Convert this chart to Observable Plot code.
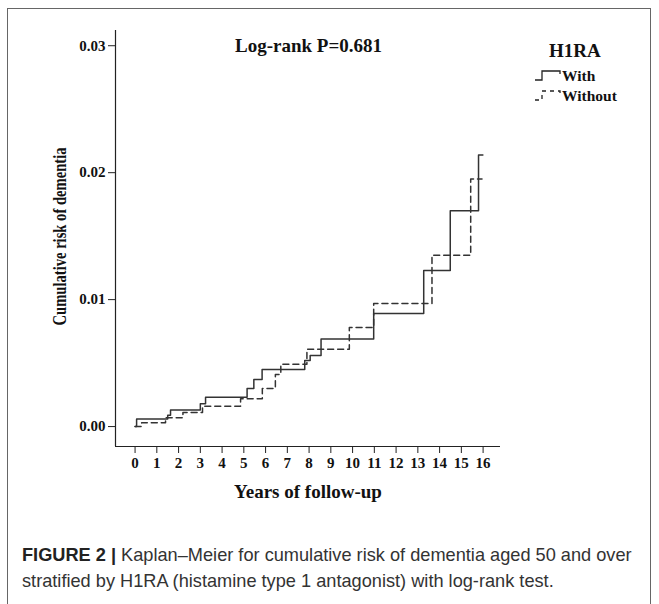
<!DOCTYPE html>
<html>
<head>
<meta charset="utf-8">
<script src="https://cdn.jsdelivr.net/npm/d3@7"></script>
<script src="https://cdn.jsdelivr.net/npm/@observablehq/plot@0.6"></script>
<style>
  html, body { margin: 0; padding: 0; background: #fff; }
  #page { position: relative; width: 659px; height: 604px; overflow: hidden; background: #fff; }
  #frame { position: absolute; left: 7px; top: 8px; width: 644px; height: 620px; border: 1px solid #666; box-sizing: border-box; }
  #chart { position: absolute; left: 0; top: 0; }
  .serif { font-family: "Liberation Serif", "DejaVu Serif", serif; font-weight: bold; color: #111; position: absolute; white-space: nowrap; }
  #title { left: 235px; top: 35px; font-size: 19px; }
  #legtitle { left: 549px; top: 40px; font-size: 19px; }
  .legitem { left: 534px; font-size: 15.5px; display: flex; align-items: center; }
  .legitem svg { margin-right: 0px; }
  #caption { position: absolute; left: 22px; top: 542px; width: 636px; font-family: "Liberation Sans", Arial, sans-serif; font-size: 18.2px; line-height: 26px; color: #333; white-space: nowrap; }
  #caption b { color: #222; }
</style>
</head>
<body>
<div id="page">
  <div id="frame"></div>
  <div id="chart"></div>
  <div id="title" class="serif">Log-rank P=0.681</div>
  <div id="legtitle" class="serif">H1RA</div>
  <div class="serif legitem" style="top:67px">
    <svg width="28" height="14"><path d="M1,11 H8 V2 H26 V5" fill="none" stroke="#222" stroke-width="1.3"/></svg>With
  </div>
  <div class="serif legitem" style="top:87px">
    <svg width="28" height="14"><path d="M1,11 H8 V2 H26 V5" fill="none" stroke="#222" stroke-width="1.3" stroke-dasharray="4,4"/></svg>Without
  </div>
  <div id="caption"><b>FIGURE 2 |</b> Kaplan–Meier for cumulative risk of dementia aged 50 and over<br>stratified by H1RA (histamine type 1 antagonist) with log-rank test.</div>
</div>
<script>
// Years of follow-up (x) and cumulative risk (y) at each step, per group
const withTime  = [0, 0.07, 1.5, 1.63, 3.0, 3.24, 5.15, 5.46, 5.84, 7.8, 8.05, 8.55, 10.97, 13.27, 14.49, 15.79, 15.99];
const withRisk  = [0, 0.0006, 0.0009, 0.0013, 0.0018, 0.0023, 0.0030, 0.0037, 0.0045, 0.0052, 0.0056, 0.0069, 0.0089, 0.0123, 0.0170, 0.0214, 0.0214];
const withoutTime = [0, 0.3, 1.4, 2.2, 3.1, 4.85, 5.85, 6.45, 6.7, 7.9, 9.85, 10.97, 13.65, 15.43, 15.95];
const withoutRisk = [0, 0.0003, 0.0007, 0.0011, 0.0016, 0.0022, 0.0030, 0.0041, 0.0049, 0.0061, 0.0078, 0.0097, 0.0135, 0.0195, 0.0195];
const xTicks = d3.range(0, 17);
const yTicks = [0, 0.01, 0.02, 0.03];
const xDomain = [-0.9, 16.8];
const yDomain = [-0.00157, 0.0312];
const yLabel = "Cumulative risk of dementia";

const withData = withTime.map((t, i) => ({t, r: withRisk[i]}));
const withoutData = withoutTime.map((t, i) => ({t, r: withoutRisk[i]}));

const chart = Plot.plot({
  width: 659,
  height: 520,
  marginLeft: 115,
  marginRight: 159,
  marginTop: 30,
  marginBottom: 74,
  style: { fontFamily: "'Liberation Serif', serif", fontWeight: "bold", color: "#111", background: "transparent", overflow: "visible" },
  x: { domain: xDomain },
  y: { domain: yDomain },
  marks: [
    Plot.axisX({ ticks: xTicks, tickSize: 7, tickPadding: 4, fontSize: 15, label: null, stroke: "#222" }),
    Plot.axisY({ ticks: yTicks, tickSize: 7, tickPadding: 3, fontSize: 15, tickFormat: d3.format(".2f"), label: null, stroke: "#222" }),
    Plot.ruleX([xDomain[0]], { stroke: "#222", strokeWidth: 1.2 }),
    Plot.ruleY([yDomain[0]], { stroke: "#222", strokeWidth: 1.2 }),
    Plot.line(withoutData, { x: "t", y: "r", curve: "step-after", stroke: "#333", strokeWidth: 1.5, strokeDasharray: "6,4" }),
    Plot.line(withData, { x: "t", y: "r", curve: "step-after", stroke: "#333", strokeWidth: 1.5 }),
    Plot.text(["Years of follow-up"], { frameAnchor: "bottom", dy: 51, fontSize: 19, fontWeight: "bold", fill: "#111" }),
    Plot.text([yLabel], { frameAnchor: "left", dx: -55, dy: -2, rotate: -90, textAnchor: "middle", fontSize: 18, fontWeight: "bold", fill: "#111" })
  ]
});
document.getElementById("chart").appendChild(chart);
// The reference's vertical title is compressed along its length
chart.querySelectorAll("text").forEach(t => {
  if (t.textContent === yLabel) {
    t.setAttribute("textLength", "178");
    t.setAttribute("lengthAdjust", "spacingAndGlyphs");
  }
});
</script>
</body>
</html>
